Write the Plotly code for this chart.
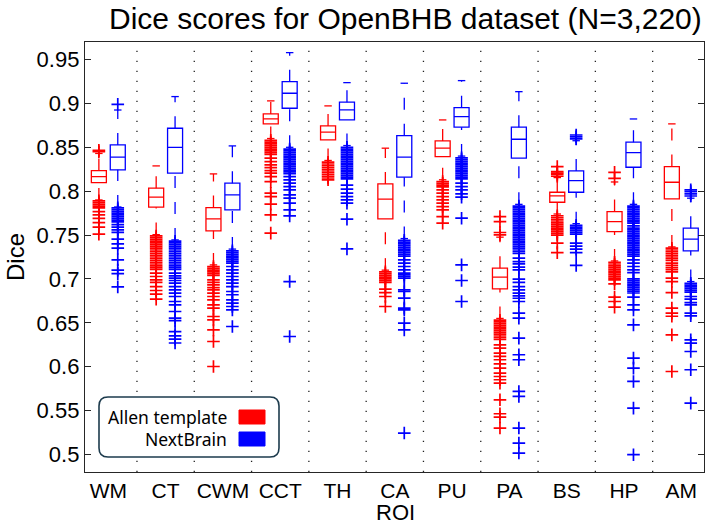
import plotly.graph_objects as go

rois = ["WM", "CT", "CWM", "CCT", "TH", "CA", "PU", "PA", "BS", "HP", "AM"]
y_tick_vals = [0.5, 0.55, 0.6, 0.65, 0.7, 0.75, 0.8, 0.85, 0.9, 0.95]
y_tick_text = ["0.5", "0.55", "0.6", "0.65", "0.7", "0.75", "0.8", "0.85", "0.9", "0.95"]
series_names = ["Allen template", "NextBrain"]

# Allen template box statistics (whisker ends, quartiles, median)
allen_lo = [0.790, 0.7505, 0.716, 0.860, 0.835, 0.710, 0.813, 0.655, 0.774, 0.7205, 0.7365]
allen_q1 = [0.8098, 0.7818, 0.7548, 0.8767, 0.8584, 0.7685, 0.8394, 0.6887, 0.7874, 0.754, 0.7912]
allen_med = [0.8166, 0.7932, 0.7685, 0.8823, 0.8672, 0.7909, 0.849, 0.702, 0.7946, 0.7654, 0.8102]
allen_q3 = [0.8235, 0.8034, 0.7813, 0.888, 0.8744, 0.8083, 0.8573, 0.7123, 0.7988, 0.7768, 0.828]
allen_hi = [0.843, 0.8288, 0.8197, 0.9029, 0.8972, 0.849, 0.8812, 0.7476, 0.8155, 0.8105, 0.8767]

# NextBrain box statistics
nb_lo = [0.782, 0.7445, 0.734, 0.850, 0.852, 0.746, 0.840, 0.785, 0.763, 0.785, 0.697]
nb_q1 = [0.8243, 0.8205, 0.7787, 0.8945, 0.8812, 0.816, 0.8729, 0.8376, 0.7988, 0.8273, 0.732]
nb_med = [0.8387, 0.850, 0.7958, 0.9116, 0.8926, 0.8387, 0.885, 0.8592, 0.812, 0.844, 0.7453]
nb_q3 = [0.8527, 0.8717, 0.8091, 0.9248, 0.9014, 0.8633, 0.8952, 0.8729, 0.8231, 0.8558, 0.7579]
nb_hi = [0.8925, 0.9078, 0.8516, 0.9579, 0.9237, 0.923, 0.926, 0.9134, 0.8575, 0.8823, 0.792]

# Outliers, Allen template
allen_out_wm = [0.845, 0.8465, 0.789, 0.787, 0.785, 0.783, 0.781, 0.7768, 0.773, 0.769, 0.7642, 0.759, 0.751]
allen_out_ct = [0.749, 0.747, 0.745, 0.743, 0.741, 0.739, 0.737, 0.735, 0.733, 0.731, 0.729, 0.727,
                0.725, 0.723, 0.721, 0.719, 0.717, 0.715, 0.713, 0.711, 0.7066, 0.7028, 0.699, 0.696,
                0.6913, 0.6868, 0.6827, 0.677]
allen_out_cwm = [0.714, 0.712, 0.710, 0.708, 0.706, 0.704, 0.699, 0.696, 0.6933, 0.6902, 0.6876, 0.6838,
                 0.680, 0.6762, 0.6705, 0.6667, 0.6572, 0.6534, 0.642, 0.6287, 0.6002]
allen_out_cct = [0.858, 0.856, 0.854, 0.852, 0.850, 0.848, 0.846, 0.844, 0.842, 0.8376, 0.8337, 0.830,
                 0.8269, 0.8235, 0.8205, 0.8166, 0.8109, 0.7977, 0.7939, 0.7852, 0.773, 0.7522]
allen_out_th = [0.833, 0.831, 0.829, 0.827, 0.825, 0.823, 0.821, 0.819, 0.817, 0.815, 0.813]
allen_out_ca = [0.708, 0.706, 0.704, 0.702, 0.700, 0.698, 0.696, 0.6884, 0.6845, 0.680, 0.6686]
allen_out_pu = [0.811, 0.809, 0.807, 0.805, 0.8015, 0.7977, 0.7939, 0.790, 0.7863, 0.7825, 0.7787,
                0.7711, 0.7636]
allen_out_pa = [0.7502, 0.7529, 0.7654, 0.771, 0.653, 0.651, 0.649, 0.647, 0.645, 0.643, 0.641,
                0.639, 0.637, 0.635, 0.633, 0.631, 0.6249, 0.6212, 0.6155, 0.6117, 0.6079, 0.6033,
                0.5984, 0.5927, 0.5888, 0.5851, 0.5813, 0.5623, 0.5464, 0.5426, 0.5301]
allen_out_bs = [0.817, 0.819, 0.8205, 0.8223, 0.828, 0.772, 0.770, 0.768, 0.766, 0.764, 0.762, 0.760,
                0.758, 0.756, 0.754, 0.752, 0.750, 0.7408, 0.730]
allen_out_hp = [0.8145, 0.8215, 0.719, 0.717, 0.715, 0.713, 0.711, 0.709, 0.707, 0.705, 0.703, 0.701,
                0.699, 0.6944, 0.6792, 0.6743, 0.6679]
allen_out_am = [0.735, 0.733, 0.731, 0.729, 0.727, 0.725, 0.723, 0.721, 0.718, 0.7155, 0.713, 0.7105,
                0.708, 0.7009, 0.697, 0.6845, 0.6667, 0.661, 0.6575, 0.6363, 0.5945]

# Outliers, NextBrain
nb_out_wm = [0.899, 0.781, 0.779, 0.777, 0.775, 0.773, 0.771, 0.769, 0.767, 0.765, 0.762, 0.759, 0.756,
             0.753, 0.7453, 0.740, 0.735, 0.7218, 0.710, 0.706, 0.691]
nb_out_ct = [0.743, 0.741, 0.739, 0.737, 0.735, 0.733, 0.731, 0.729, 0.727, 0.725, 0.723, 0.721, 0.719,
             0.717, 0.715, 0.713, 0.711, 0.7066, 0.7035, 0.7009, 0.6982, 0.6952, 0.6913, 0.6876,
             0.6838, 0.680, 0.6743, 0.6705, 0.6629, 0.6554, 0.6526, 0.640, 0.6352, 0.6314, 0.627]
nb_out_cwm = [0.732, 0.730, 0.728, 0.726, 0.724, 0.722, 0.720, 0.718, 0.7142, 0.7104, 0.7066, 0.7028,
              0.699, 0.6952, 0.6913, 0.6857, 0.682, 0.6762, 0.6724, 0.6686, 0.6648, 0.6458]
nb_out_cct = [0.848, 0.846, 0.844, 0.842, 0.840, 0.838, 0.836, 0.834, 0.832, 0.830, 0.828, 0.826,
              0.824, 0.822, 0.820, 0.8166, 0.8129, 0.8091, 0.8052, 0.8015, 0.7958, 0.792, 0.7863,
              0.7787, 0.7719, 0.697, 0.6344]
nb_out_th = [0.850, 0.848, 0.846, 0.844, 0.842, 0.840, 0.838, 0.836, 0.834, 0.832, 0.830, 0.828, 0.826,
             0.824, 0.822, 0.820, 0.818, 0.816, 0.814, 0.807, 0.8023, 0.7977, 0.7939, 0.790, 0.7863,
             0.7681, 0.7343]
nb_out_ca = [0.744, 0.742, 0.740, 0.738, 0.736, 0.734, 0.732, 0.730, 0.728, 0.726, 0.7218, 0.718,
             0.7142, 0.7104, 0.7066, 0.7047, 0.7028, 0.7009, 0.6876, 0.6857, 0.6781, 0.6667, 0.6648,
             0.6497, 0.642, 0.5244]
nb_out_pu = [0.838, 0.836, 0.834, 0.832, 0.830, 0.828, 0.826, 0.824, 0.822, 0.820, 0.818, 0.816, 0.814,
             0.8091, 0.8052, 0.8015, 0.797, 0.7932, 0.7692, 0.716, 0.6982, 0.6743]
nb_out_pa = [0.783, 0.781, 0.779, 0.777, 0.775, 0.773, 0.771, 0.769, 0.767, 0.765, 0.763, 0.761, 0.759,
             0.757, 0.755, 0.753, 0.751, 0.749, 0.747, 0.745, 0.743, 0.741, 0.739, 0.737, 0.735, 0.733,
             0.731, 0.729, 0.7237, 0.7198, 0.7172, 0.7134, 0.7104, 0.6998, 0.696, 0.6913, 0.6876,
             0.6838, 0.6807, 0.678, 0.6743, 0.661, 0.6554, 0.6326, 0.6136, 0.6079, 0.5718, 0.5661,
             0.5301, 0.513, 0.5016]
nb_out_bs = [0.8595, 0.862, 0.864, 0.761, 0.759, 0.757, 0.755, 0.753, 0.751, 0.7408, 0.7375, 0.734,
             0.730, 0.7155]
nb_out_hp = [0.783, 0.781, 0.779, 0.777, 0.775, 0.773, 0.771, 0.769, 0.767, 0.7654, 0.7635, 0.7604,
             0.758, 0.756, 0.754, 0.752, 0.750, 0.748, 0.746, 0.744, 0.742, 0.740, 0.738, 0.736, 0.734,
             0.732, 0.730, 0.728, 0.726, 0.7218, 0.718, 0.7142, 0.7104, 0.7073, 0.700, 0.698, 0.696,
             0.694, 0.692, 0.690, 0.688, 0.686, 0.684, 0.6792, 0.6705, 0.6648, 0.6477, 0.6098, 0.5984,
             0.5832, 0.5528, 0.4997]
nb_out_am = [0.7945, 0.797, 0.7995, 0.8015, 0.695, 0.693, 0.691, 0.689, 0.687, 0.685, 0.680, 0.677,
             0.6731, 0.6705, 0.661, 0.658, 0.6306, 0.6268, 0.6173, 0.5965, 0.5585]

allen_outliers = [allen_out_wm, allen_out_ct, allen_out_cwm, allen_out_cct, allen_out_th, allen_out_ca,
                  allen_out_pu, allen_out_pa, allen_out_bs, allen_out_hp, allen_out_am]
nb_outliers = [nb_out_wm, nb_out_ct, nb_out_cwm, nb_out_cct, nb_out_th, nb_out_ca,
               nb_out_pu, nb_out_pa, nb_out_bs, nb_out_hp, nb_out_am]

RED = "#ff0000"
BLUE = "#0000ff"
OFFSET = 0.165
BOX_W = 0.262
CAP_HALF = 0.065
AXIS_COL = "#262626"
FONT = "Liberation Sans, Arial, Helvetica, sans-serif"

fig = go.Figure()

groups = [
    (series_names[0], RED, -OFFSET, allen_lo, allen_q1, allen_med, allen_q3, allen_hi, allen_outliers),
    (series_names[1], BLUE, OFFSET, nb_lo, nb_q1, nb_med, nb_q3, nb_hi, nb_outliers),
]

for name, col, off, lo, q1, med, q3, hi, outs in groups:
    pos = [i + 1 + off for i in range(len(rois))]
    # dashed whiskers
    wx, wy = [], []
    for p, a, b, c, d in zip(pos, lo, q1, q3, hi):
        wx += [p, p, None, p, p, None]
        wy += [a, b, None, c, d, None]
    fig.add_trace(go.Scatter(x=wx, y=wy, mode="lines", showlegend=False, hoverinfo="skip",
                             line=dict(color=col, width=1.3, dash="12px,14px")))
    # whisker caps
    cx, cy = [], []
    for p, a, d in zip(pos, lo, hi):
        cx += [p - CAP_HALF, p + CAP_HALF, None, p - CAP_HALF, p + CAP_HALF, None]
        cy += [a, a, None, d, d, None]
    fig.add_trace(go.Scatter(x=cx, y=cy, mode="lines", showlegend=False, hoverinfo="skip",
                             line=dict(color=col, width=1.3)))
    # boxes
    fig.add_trace(go.Box(x=pos, q1=q1, median=med, q3=q3, lowerfence=q1, upperfence=q3,
                         width=BOX_W, whiskerwidth=0, boxpoints=False, name=name,
                         line=dict(color=col, width=1.3), fillcolor="rgba(0,0,0,0)",
                         showlegend=False))
    # outliers
    ox, oy = [], []
    for p, vals in zip(pos, outs):
        ox += [p] * len(vals)
        oy += vals
    fig.add_trace(go.Scatter(x=ox, y=oy, mode="markers", showlegend=False, hoverinfo="skip",
                             marker=dict(symbol="cross-thin", size=9,
                                         line=dict(color=col, width=1.7))))

# dotted group separators
shapes = []
for i in range(1, len(rois)):
    shapes.append(dict(type="line", xref="x", yref="paper", x0=i + 0.5, x1=i + 0.5, y0=0, y1=1,
                       layer="below", line=dict(color="#222222", width=1.3, dash="1.3px,8.7px")))

# custom legend (rounded box, text left of swatch)
PL, PR, PT, PB = 85, 704, 42, 472
def px(x):
    return (x - PL) / (PR - PL)
def py(y):
    return (PB - y) / (PB - PT)

x0, x1, y0, y1 = px(99), px(279), py(457), py(397)
rx, ry = 9 / (PR - PL), 9 / (PB - PT)
path = (f"M{x0+rx},{y0} L{x1-rx},{y0} Q{x1},{y0} {x1},{y0+ry} L{x1},{y1-ry} Q{x1},{y1} {x1-rx},{y1} "
        f"L{x0+rx},{y1} Q{x0},{y1} {x0},{y1-ry} L{x0},{y0+ry} Q{x0},{y0} {x0+rx},{y0} Z")
shapes.append(dict(type="path", xref="paper", yref="paper", path=path, fillcolor="white",
                   line=dict(color="#1d3b4d", width=1.6), layer="above"))
for (yt, yb), col in zip([(410, 424), (432, 446)], [RED, BLUE]):
    shapes.append(dict(type="rect", xref="paper", yref="paper", x0=px(239), x1=px(265),
                       y0=py(yb), y1=py(yt), fillcolor=col, line=dict(color=col, width=1),
                       layer="above"))

annotations = [
    dict(text=series_names[0], x=px(229), y=py(417), xref="paper", yref="paper", xanchor="right",
         yanchor="middle", showarrow=False, font=dict(family="Noto Sans, sans-serif", size=17.5, color="black")),
    dict(text=series_names[1], x=px(229), y=py(439), xref="paper", yref="paper", xanchor="right",
         yanchor="middle", showarrow=False, font=dict(family="Noto Sans, sans-serif", size=17.5, color="black")),
    dict(text="Dice", x=px(15), y=py(257), xref="paper", yref="paper", xanchor="center", yanchor="middle",
         textangle=-90, showarrow=False, font=dict(family=FONT, size=24, color="black")),
    dict(text="ROI", x=px(395), y=py(512), xref="paper", yref="paper", xanchor="center", yanchor="middle",
         showarrow=False, font=dict(family=FONT, size=22, color="black")),
    dict(text="Dice scores for OpenBHB dataset (N=3,220)", x=px(405), y=py(19), xref="paper",
         yref="paper", xanchor="center", yanchor="middle", showarrow=False,
         font=dict(family=FONT, size=30, color="black")),
]

fig.update_layout(
    width=706, height=526,
    margin=dict(l=PL, r=706 - PR, t=PT, b=526 - PB, pad=0, autoexpand=False),
    paper_bgcolor="white", plot_bgcolor="white",
    showlegend=False,
    shapes=shapes, annotations=annotations,
    xaxis=dict(range=[0.593, 11.396], tickmode="array", tickvals=list(range(1, len(rois) + 1)),
               ticktext=rois, ticks="", showgrid=False, zeroline=False, showline=True, mirror=True,
               automargin=False, linecolor=AXIS_COL, linewidth=1.3, ticklabelstandoff=0,
               tickfont=dict(family=FONT, size=21, color="black")),
    yaxis=dict(range=[0.48, 0.97], tickmode="array", tickvals=y_tick_vals, ticktext=y_tick_text,
               ticks="inside", ticklen=6, tickwidth=1.3, tickcolor=AXIS_COL, showgrid=False,
               zeroline=False, showline=True, mirror="ticks", linecolor=AXIS_COL, linewidth=1.3,
               automargin=False, tickfont=dict(family=FONT, size=22, color="black")),
)

fig.write_html("out.html", config={"displayModeBar": False},
               post_script="document.body.style.margin='0';document.body.style.overflow='hidden';")
